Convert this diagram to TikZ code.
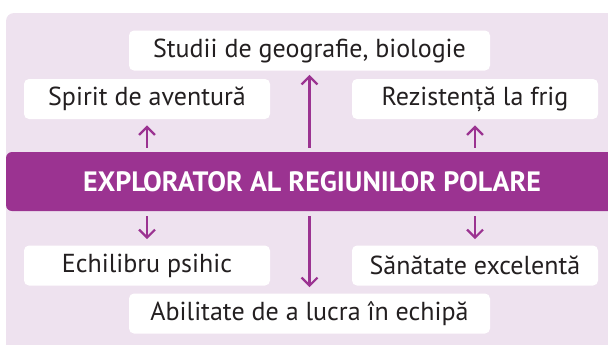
\documentclass[tikz,border=0pt]{standalone}
\usepackage{fontspec}
\setmainfont{PT Sans}
\usetikzlibrary{arrows.meta}
\definecolor{lilac}{HTML}{EEE2EF}
\definecolor{plum}{HTML}{9B3391}
\definecolor{ink}{HTML}{231F20}
\tikzset{
  every node/.style={font=\fontsize{13}{15}\selectfont,text=ink},
  card/.style={fill=white,rounded corners=2.5pt,inner sep=0pt,minimum height=20pt},
  wide/.style={card,minimum width=180.5pt},
  half/.style={card,minimum width=123pt},
  core/.style={fill=plum,rounded corners=3pt,inner sep=0pt,minimum height=29.5pt,
               minimum width=306pt,text=white,font=\fontsize{14}{16}\selectfont\bfseries},
  ar/.style={-{Straight Barb[length=4pt,width=8pt]},draw=plum,line width=1.1pt},
}
\begin{document}
\begin{tikzpicture}[x=0.5pt,y=-0.5pt]
\useasboundingbox (0,0) rectangle (608,344);
\fill[lilac,rounded corners=4pt] (6,13) rectangle (630,360);
\node[core] (core) at (312,181.5) {EXPLORATOR AL REGIUNILOR POLARE};
\node[wide] (geo) at (309.5,50.5) {Studii de geografie, biologie};
\node[half] (spirit) at (147,99) {Spirit de aventură};
\node[half] (frig) at (475,99) {Rezistență la frig};
\node[half] (echi) at (147,265.5) {Echilibru psihic};
\node[half] (sana) at (475,265.5) {Sănătate excelentă};
\node[wide] (team) at (309.5,313.5) {Abilitate de a lucra în echipă};
% up
\draw[ar,shorten <=2pt,shorten >=2pt] (geo.south |- core.north) -- (geo.south);
\draw[ar,shorten <=2pt,shorten >=3pt] (spirit.south |- core.north) -- (spirit.south);
\draw[ar,shorten <=2pt,shorten >=3pt] (frig.south |- core.north) -- (frig.south);
% down
\draw[ar,shorten <=2.5pt,shorten >=3pt] (team.north |- core.south) -- (team.north);
\draw[ar,shorten <=2.5pt,shorten >=3pt] (echi.north |- core.south) -- (echi.north);
\draw[ar,shorten <=2.5pt,shorten >=3pt] (sana.north |- core.south) -- (sana.north);
\end{tikzpicture}
\end{document}
